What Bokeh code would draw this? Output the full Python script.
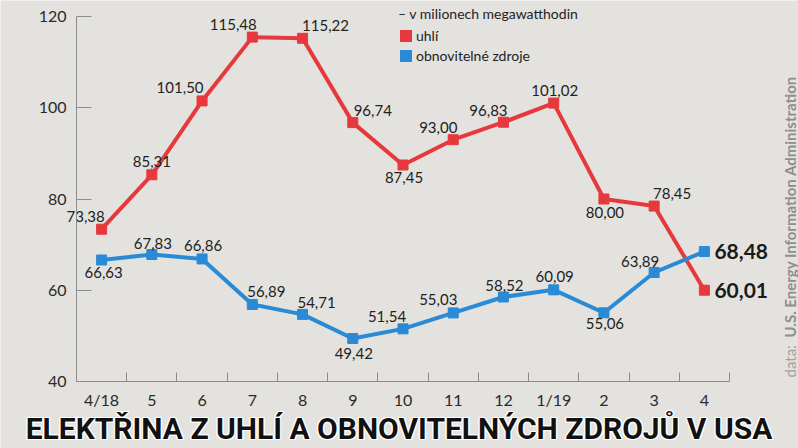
import math
from bokeh.plotting import figure
from bokeh.models import (ColumnDataSource, Range1d, FixedTicker, Label, Legend, LegendItem)
from bokeh.core.properties import value
from bokeh.embed import file_html
from bokeh.resources import INLINE

# ---- data ----
months = ["4/18", "5", "6", "7", "8", "9", "10", "11", "12", "1/19", "2", "3", "4"]
coal = [73.38, 85.31, 101.50, 115.48, 115.22, 96.74, 87.45, 93.00, 96.83, 101.02, 80.00, 78.45, 60.01]
renewables = [66.63, 67.83, 66.86, 56.89, 54.71, 49.42, 51.54, 55.03, 58.52, 60.09, 55.06, 63.89, 68.48]
y_ticks = [40, 60, 80, 100, 120]

title_text = "ELEKTŘINA Z UHLÍ A OBNOVITELNÝCH ZDROJŮ V USA"
unit_text = "– v milionech megawatthodin"
coal_name = "uhlí"
ren_name = "obnovitelné zdroje"
source_prefix = "data:"
source_name = "U.S. Energy Information Administration"

# label placement (pixel offsets, screen: +y down)
coal_dx = [-16, 0, -22, -19, 23, 20, 1, -15, -15, 1, 1, 18]
coal_dy = [-13, -13, -13, -13, -13, -12, 12, -12, -12, -13, 13, -13]
ren_dx = [2, 1, 1, 14, 14, 1, -16, -15, 1, 1, 1, -14]
ren_dy = [12, -11, -13, -13, -12, 15, -12, -13, -12, -13, 11, -11]

RED = "#e6393e"
BLUE = "#2a8ad6"
BG = "#e4e2de"
AX = "#8c8c8c"
FONT = "Lato"
TITLE_FONT = "Roboto"

W, H = 798, 448
# pixel box of the chart area inside the canvas
PX_L, PX_R, PX_T, PX_B = 76, 729, 16, 381


def fmt(v):
    return f"{v:.2f}".replace(".", ",")


xs = list(range(len(months)))
x0, x1 = -0.5, len(months) - 0.5
y0, y1 = y_ticks[0], y_ticks[-1]
kx = (x1 - x0) / (PX_R - PX_L)
ky = (y1 - y0) / (PX_B - PX_T)
xr = Range1d(x0 - PX_L * kx, x1 + (W - PX_R) * kx)
yr = Range1d(y0 - (H - PX_B) * ky, y1 + PX_T * ky)

p = figure(width=W, height=H, output_backend="svg", toolbar_location=None,
           x_range=xr, y_range=yr, min_border=0)
p.background_fill_color = BG
p.border_fill_color = BG
p.outline_line_color = None
p.xgrid.visible = False
p.ygrid.visible = False

# axes drawn inside the frame at fixed positions
xa = p.xaxis[0]
ya = p.yaxis[0]
xa.fixed_location = y0
xa.bounds = (x0, x1)
ya.fixed_location = x0
ya.bounds = (y0, y1)
xa.ticker = FixedTicker(ticks=xs, minor_ticks=[i + 0.5 for i in xs])
xa.major_label_overrides = {i: m for i, m in enumerate(months)}
xa.major_tick_in = 0
xa.major_tick_out = 0
xa.minor_tick_in = 9
xa.minor_tick_out = 0
xa.minor_tick_line_color = AX
xa.major_label_standoff = 8
ya.ticker = FixedTicker(ticks=y_ticks)
ya.major_tick_in = 15
ya.major_tick_out = 0
ya.minor_tick_line_color = None
ya.major_label_standoff = 10
for ax in (xa, ya):
    ax.axis_line_color = AX
    ax.major_tick_line_color = AX
    ax.major_label_text_font = FONT
    ax.major_label_text_font_size = "16px"
    ax.major_label_text_color = "#2a2a2a"

# lines + markers
p.line(xs, coal, line_color=RED, line_width=4)
p.scatter(xs, coal, marker="square", size=10, fill_color=RED, line_color=RED)
p.line(xs, renewables, line_color=BLUE, line_width=4)
p.scatter(xs, renewables, marker="square", size=10, fill_color=BLUE, line_color=BLUE)

# value labels
n = len(months) - 1
lab = ColumnDataSource(dict(
    x=xs[:n] + xs[:n],
    y=coal[:n] + renewables[:n],
    t=[fmt(v) for v in coal[:n]] + [fmt(v) for v in renewables[:n]],
    dx=coal_dx + ren_dx,
    dy=coal_dy + ren_dy,
))
p.text(x="x", y="y", text="t", x_offset="dx", y_offset="dy", source=lab,
       text_align="center", text_baseline="middle", text_font=value(FONT),
       text_font_size="15px", text_color="#222222")

for v in (coal[-1], renewables[-1]):
    p.add_layout(Label(x=xs[-1], y=v, text=fmt(v), x_offset=10, y_offset=0,
                       text_align="left", text_baseline="middle", text_font=FONT,
                       text_font_size="21px", text_font_style="bold", text_color="#1a1a1a"))

# legend
nan = float("nan")
r_red = p.quad(left=[nan], right=[nan], top=[nan], bottom=[nan], fill_color=RED, line_color=None)
r_blue = p.quad(left=[nan], right=[nan], top=[nan], bottom=[nan], fill_color=BLUE, line_color=None)
legend = Legend(items=[LegendItem(label=coal_name, renderers=[r_red]),
                       LegendItem(label=ren_name, renderers=[r_blue])],
                title=unit_text, location=(398, H - 64), orientation="vertical",
                glyph_width=15, glyph_height=15, label_standoff=3, spacing=3,
                padding=0, margin=0, border_line_color=None, background_fill_alpha=0,
                label_text_font=FONT, label_text_font_size="14px", label_text_color="#222222",
                title_text_font=FONT, title_text_font_size="14px", title_text_font_style="normal",
                title_text_color="#222222", title_standoff=5, label_height=15)
p.add_layout(legend)

# source note (vertical)
p.add_layout(Label(x=x1, y=y0, x_offset=60, y_offset=4, text=source_prefix,
                   angle=math.pi / 2, text_align="left", text_baseline="middle",
                   text_font=FONT, text_font_size="15px", text_color="#a0a0a0"))
p.add_layout(Label(x=x1, y=y0, x_offset=60, y_offset=44, text=source_name,
                   angle=math.pi / 2, text_align="left", text_baseline="middle",
                   text_font=FONT, text_font_size="15px", text_font_style="bold",
                   text_color="#8e8e8e"))

# title with white halo
cx = (x0 + x1) / 2
for ox, oy in [(-1.2, 0), (1.2, 0), (0, -1.2), (0, 1.2), (-1, -1), (1, 1), (-1, 1), (1, -1)]:
    p.add_layout(Label(x=cx, y=y0, x_offset=-4 + ox, y_offset=-47 + oy, text=title_text,
                       text_align="center", text_baseline="middle",
                       text_font=TITLE_FONT, text_font_size="30px",
                       text_font_style="bold", text_color="white"))
p.add_layout(Label(x=cx, y=y0, x_offset=-4, y_offset=-47, text=title_text,
                   text_align="center", text_baseline="middle",
                   text_font=TITLE_FONT, text_font_size="30px",
                   text_font_style="bold", text_color="#111111"))

open("out.html", "w").write(file_html(p, INLINE))
